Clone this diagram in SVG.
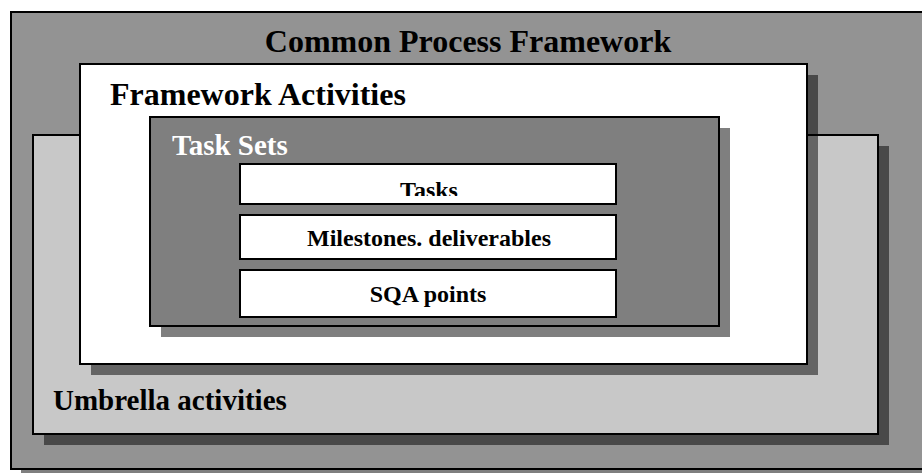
<svg xmlns="http://www.w3.org/2000/svg" width="922" height="473" viewBox="0 0 922 473">
  <style>
    .box { stroke: #000; stroke-width: 2; }
    .shadow { fill: #000; fill-opacity: 0.5; }
    .lbl { font-family: "Liberation Serif", "Times New Roman", serif; font-weight: bold; fill: #000; }
    .big { font-size: 32px; }
    .mid { font-size: 29px; }
    .small { font-size: 24px; text-anchor: middle; }
  </style>
  <defs>
    <clipPath id="tasksClip">
      <rect x="240" y="164" width="376" height="32"/>
    </clipPath>
  </defs>
  <rect width="922" height="473" fill="#fff"/>

  <!-- outermost layer -->
  <g id="common-process-framework">
    <rect class="shadow" x="21" y="22" width="930" height="458"/>
    <rect class="box" x="11" y="12" width="930" height="457" fill="#939393"/>
    <text class="lbl big" x="468" y="52" text-anchor="middle">Common Process Framework</text>
  </g>

  <!-- umbrella layer -->
  <g id="umbrella-activities">
    <rect class="shadow" x="44" y="146" width="845" height="299"/>
    <rect class="box" x="33" y="135" width="845" height="299" fill="#c8c8c8"/>
    <text class="lbl mid" x="53" y="410">Umbrella activities</text>
  </g>

  <!-- framework activities layer -->
  <g id="framework-activities">
    <rect class="shadow" x="91" y="75" width="727" height="300"/>
    <rect class="box" x="80" y="64" width="727" height="300" fill="#fff"/>
    <text class="lbl big" x="110" y="105">Framework Activities</text>
  </g>

  <!-- task sets layer -->
  <g id="task-sets">
    <rect class="shadow" x="161" y="128" width="569" height="209"/>
    <rect class="box" x="150" y="117" width="569" height="209" fill="#7f7f7f"/>
    <text class="lbl mid" x="172" y="155" fill="#fff" style="fill:#fff">Task Sets</text>
  </g>

  <g id="tasks">
    <rect class="box" x="240" y="164" width="376" height="40" fill="#fff"/>
    <text class="lbl small" x="429" y="198" clip-path="url(#tasksClip)">Tasks</text>
  </g>

  <g id="milestones">
    <rect class="box" x="240" y="215" width="376" height="44" fill="#fff"/>
    <text class="lbl small" x="429" y="246">Milestones. deliverables</text>
  </g>

  <g id="sqa-points">
    <rect class="box" x="240" y="270" width="376" height="47" fill="#fff"/>
    <text class="lbl small" x="428" y="302">SQA points</text>
  </g>

  <g id="connectors"/>
</svg>
